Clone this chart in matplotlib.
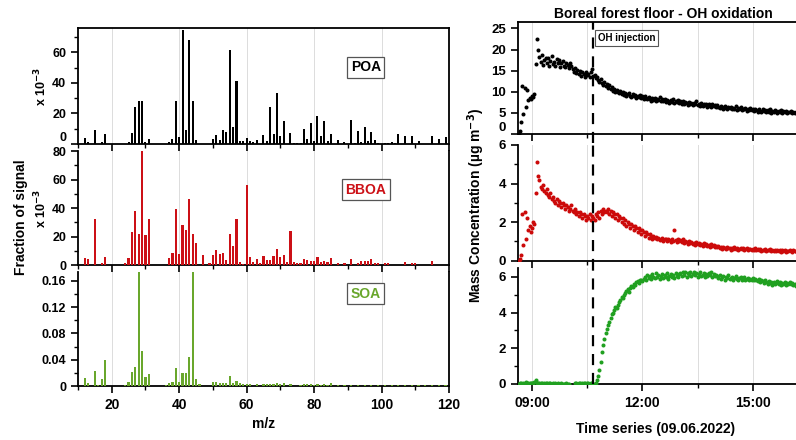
import numpy as np
import pandas as pd
import matplotlib
matplotlib.use("Agg")
import matplotlib.pyplot as plt
import matplotlib.dates as mdates
from matplotlib.ticker import MultipleLocator, FuncFormatter

plt.rcParams['font.family'] = ['Liberation Sans', 'DejaVu Sans']
plt.rcParams['font.weight'] = 'bold'
plt.rcParams['axes.labelweight'] = 'bold'
plt.rcParams['axes.linewidth'] = 1.3

# ---- mass spectra (POA and BBOA in 10^-3, SOA as fraction) ----
poa_mz = [12, 13, 15, 17, 18, 25, 26, 27, 28, 29, 30, 31, 37, 38, 39, 40, 41, 42, 43, 44, 45,
          50, 51, 52, 53, 54, 55, 56, 57, 58, 59, 60, 61, 62, 63, 65, 66, 67, 68, 69, 70, 71,
          73, 74, 75, 76, 77, 78, 79, 80, 81, 82, 83, 84, 85, 87, 89, 91, 92, 93, 94, 95, 96,
          97, 98, 99, 101, 102, 103, 104, 105, 107, 109, 111, 115, 117, 119]
poa_val = [3.7, 1.0, 9.0, 1.5, 6.3, 1.0, 7.4, 24.3, 28.5, 28.0, 1.5, 3.0, 1.5, 3.0, 28.0, 4.4, 74.4, 9.4, 68.3, 28.5, 2.6,
           3.0, 6.0, 2.4, 9.2, 8.1, 61.7, 11.2, 41.0, 1.8, 1.8, 4.0, 2.0, 1.0, 2.6, 6.1, 2.0, 24.5, 6.4, 33.3, 5.3, 15.3,
           7.4, 0.9, 0.9, 0.9, 9.6, 3.0, 13.6, 2.2, 18.6, 5.3, 15.1, 2.0, 6.8, 2.6, 1.0, 15.8, 0.9, 8.8, 1.0, 11.4, 2.2,
           7.7, 2.6, 0.9, 0.9, 0.9, 1.3, 0.9, 6.8, 5.5, 5.0, 2.2, 5.3, 3.5, 4.6]

bboa_mz = [12, 13, 15, 17, 18, 24, 25, 26, 27, 28, 29, 30, 31, 37, 38, 39, 40, 41, 42, 43, 44, 45,
           47, 49, 50, 51, 52, 53, 54, 55, 56, 57, 58, 59, 60, 61, 62, 63, 64, 65, 66, 67, 68, 69,
           70, 71, 72, 73, 74, 75, 76, 77, 78, 79, 80, 81, 82, 83, 84, 85, 87, 89, 91, 93, 94, 95,
           96, 97, 98, 99, 101, 102, 107, 109, 110, 115]
bboa_val = [5.1, 4.0, 32.3, 1.2, 5.4, 1.2, 4.9, 23.4, 37.9, 21.8, 80.0, 21.0, 32.5, 4.9, 8.2, 39.0, 8.0, 28.3, 24.3, 46.0, 21.8, 15.4,
            6.8, 1.2, 7.0, 10.8, 7.5, 8.4, 3.7, 21.5, 13.3, 32.3, 2.3, 0.9, 56.4, 5.6, 2.1, 4.2, 1.4, 6.1, 3.5, 3.7, 6.3, 11.5,
            5.6, 6.8, 2.3, 23.9, 1.9, 1.4, 1.4, 4.4, 3.3, 3.0, 3.0, 5.8, 2.1, 3.0, 2.1, 4.7, 1.6, 1.4, 4.0, 1.2, 2.6, 2.6,
            2.6, 4.0, 1.6, 1.2, 1.2, 1.2, 2.1, 1.4, 1.4, 2.6]

soa_mz = [12, 13, 15, 16, 17, 18, 24, 25, 26, 27, 28, 29, 30, 31, 36, 37, 38, 39, 40, 41, 42, 43, 44, 45, 46,
          50, 51, 52, 53, 54, 55, 56, 57, 58, 59, 60, 61, 63, 65, 66, 67, 68, 69, 70, 71, 73, 76, 77, 78,
          79, 80, 81, 82, 83, 84, 85, 87, 89, 91, 93, 95, 97, 99, 101, 103, 105, 107, 109, 111, 113, 115, 117, 119]
soa_val = [0.0117, 0.005, 0.0234, 0.001, 0.010, 0.0396, 0.0015, 0.0056, 0.0208, 0.029, 0.173, 0.0538, 0.0132, 0.0188,
           0.001, 0.0046, 0.0066, 0.0274, 0.0066, 0.0193, 0.0193, 0.0442, 0.173, 0.0102, 0.0036,
           0.0056, 0.006, 0.0046, 0.005, 0.004, 0.0157, 0.005, 0.0081, 0.004, 0.0036, 0.0036, 0.0025, 0.0025, 0.003,
           0.0025, 0.0036, 0.0036, 0.0046, 0.0025, 0.0046, 0.0036, 0.002, 0.003, 0.0025, 0.003, 0.002, 0.003, 0.002,
           0.0025, 0.002, 0.004, 0.0015, 0.001, 0.0015, 0.001, 0.0015, 0.001, 0.0012, 0.001, 0.001, 0.0012, 0.001,
           0.001, 0.001, 0.001, 0.0012, 0.001, 0.001]

# ---- time series, 2-min sampling from 08:38 (µg m-3) ----
ts_start = "2022-06-09 08:38"
ts_step = "2min"
injection_time = "2022-06-09 10:40"

poa_ts = [0.1, 0.6, 2.8, 11.4, 4.8, 10.9, 6.3, 10.4, 8.0, 8.6, 8.2, 9.0, 8.7, 9.4, 16.6, 22.5, 20.0,
          18.2, 17.0, 18.8, 16.4, 17.6, 18.1, 16.8, 17.9, 16.1, 17.3, 18.4, 16.6, 17.1, 16.0, 17.8, 16.9, 17.5,
          15.8, 16.7, 17.4, 16.2, 15.9, 16.8, 16.3, 15.6,
          16.9, 16.2, 15.4, 14.8, 15.6, 14.5, 15.1, 14.2, 14.9, 13.8, 14.6, 14.1, 13.5, 14.7, 13.9, 14.3, 13.6,
          14.8, 15.5, 13.7,
          14.0, 13.2, 13.6, 12.8, 12.4, 13.0, 12.1, 11.7, 12.2, 11.4,
          11.8, 11.0, 11.5, 10.6, 11.1, 10.2, 10.7, 9.9, 10.5, 10.0, 9.6, 10.2, 9.4, 9.9, 9.2, 9.7, 9.0, 9.5,
          9.8, 9.1, 8.7, 9.4, 8.9, 9.3, 8.6, 9.1, 8.8, 9.2, 8.5, 8.9,
          8.4, 9.0, 8.6, 8.2, 8.8, 8.3, 7.9, 8.6, 8.1, 8.5, 7.8, 8.3, 8.0, 8.7, 7.7, 8.2, 7.9, 8.4, 7.6, 8.1,
          7.8, 7.4, 8.0, 7.6, 8.2, 7.3, 7.8, 7.5, 8.1, 7.4,
          7.7, 7.2, 7.9, 7.0, 7.5, 7.3, 6.9, 7.6, 7.1, 7.4, 6.8, 7.3, 7.0, 7.8, 6.9, 7.2, 6.7, 7.4, 6.6, 7.1,
          6.8, 7.0, 6.5, 7.2, 6.7, 6.4, 7.0, 6.6, 6.9, 6.3,
          6.8, 6.4, 6.1, 6.7, 6.3, 6.0, 6.6, 6.2, 5.9, 6.5, 6.1, 6.4, 5.8, 6.2, 6.0, 6.6, 5.7, 6.1, 5.9, 6.3,
          5.6, 6.0, 5.8, 6.2, 5.5, 5.9, 5.7, 6.1, 5.6, 5.8,
          5.4, 5.9, 5.6, 5.2, 5.8, 5.5, 5.3, 5.9, 5.4, 5.7, 5.1, 5.6, 5.3, 5.8, 5.0, 5.5, 5.2, 5.7, 5.4, 4.9,
          5.5, 5.2, 5.6, 5.0, 5.4, 5.1, 5.5, 4.9, 5.3, 5.2,
          5.4, 5.0, 5.3, 4.9, 5.2, 5.1]

bboa_ts = [0.0, 0.1, 0.3, 2.4, 0.8, 2.5, 1.1, 2.2, 1.6, 1.8, 1.5, 1.7, 2.0, 1.9, 3.5, 5.1, 4.4,
           4.2, 3.8, 3.7, 3.9, 3.6, 3.5, 3.7, 3.4, 3.3, 3.5, 3.2, 3.3, 3.1, 3.0, 3.2, 2.9, 3.1, 3.0, 2.8,
           3.0, 2.9, 2.7, 2.9, 2.8, 2.6,
           2.7, 2.9, 2.6, 2.5, 2.7, 2.4, 2.5, 2.3, 2.5, 2.4, 2.2, 2.4, 2.3, 2.1, 2.3, 2.2, 2.4, 2.1, 2.3, 2.2,
           2.1, 2.4, 2.3, 2.5, 2.2, 2.6, 2.4, 2.7, 2.5, 2.6,
           2.5, 2.7, 2.4, 2.6, 2.3, 2.5, 2.4, 2.2, 2.4, 2.1, 2.3, 2.2, 2.0, 2.2, 1.9, 2.1, 1.8, 2.0, 1.9, 1.7,
           1.9, 1.8, 1.6, 1.8, 1.7, 1.5, 1.7, 1.6, 1.4, 1.6,
           1.5, 1.3, 1.5, 1.4, 1.2, 1.4, 1.3, 1.1, 1.3, 1.2, 1.25, 1.1, 1.2, 1.05, 1.15, 1.2, 1.0, 1.1, 1.15, 1.0,
           1.1, 1.05, 0.95, 1.1, 1.0, 1.6, 1.05, 0.95, 1.1, 1.0,
           1.05, 0.95, 1.1, 0.9, 1.0, 0.95, 0.85, 1.0, 0.9, 0.95, 0.85, 0.9, 0.8, 0.95, 0.85, 0.9, 0.8, 0.85, 0.75, 0.9,
           0.8, 0.85, 0.75, 0.8, 0.7, 0.85, 0.75, 0.8, 0.7, 0.75,
           0.7, 0.78, 0.66, 0.72, 0.62, 0.7, 0.65, 0.6, 0.7, 0.64, 0.68, 0.58, 0.66, 0.62, 0.7, 0.6, 0.65, 0.57, 0.63, 0.68,
           0.6, 0.64, 0.56, 0.62, 0.66, 0.58, 0.63, 0.6, 0.55, 0.62,
           0.58, 0.64, 0.54, 0.6, 0.56, 0.62, 0.52, 0.58, 0.55, 0.6, 0.5, 0.57, 0.53, 0.59, 0.5, 0.55, 0.52, 0.58, 0.48, 0.54,
           0.51, 0.57, 0.47, 0.53, 0.5, 0.56, 0.46, 0.52, 0.49, 0.54,
           0.5, 0.47, 0.53, 0.48, 0.51, 0.46]

nan = float('nan')
soa_ts = [0.02, 0.03, 0.05, 0.02, 0.06, 0.04, 0.1, 0.05, 0.03, 0.08, 0.04, 0.06, 0.05, 0.12, 0.2, 0.07, 0.04,
          0.05, 0.03, 0.06, 0.02, 0.04, 0.03, 0.05, 0.02, 0.03, 0.04, 0.02, 0.03, 0.02, 0.04, 0.02, 0.03, 0.01,
          0.02, 0.03, 0.02, 0.01, 0.02, 0.03, 0.01, 0.02,
          nan, nan, nan, nan, 0.03, 0.05, 0.02, 0.04, 0.03, 0.02, 0.05, 0.03, 0.04, 0.02, 0.03, 0.05, 0.02,
          0.04, 0.03, 0.02,
          0.02, 0.05, 0.2, 0.45, 0.8, 1.25, 1.8, 2.2, 2.5, 2.85,
          3.1, 3.3, 3.5, 3.7, 3.9, 4.0, 4.15, 4.3, 4.25, 4.45, 4.6, 4.7, 4.85, 4.8, 5.0, 5.1, 5.2, 5.3, 5.15, 5.4,
          5.5, 5.45, 5.6, 5.55, 5.7, 5.75, 5.65, 5.8, 5.85, 5.75,
          5.9, 6.0, 5.85, 6.1, 5.95, 6.05, 5.9, 6.15, 6.0, 5.95, 6.2, 6.0, 6.1, 5.9, 6.05, 6.15, 5.95, 6.1, 6.0, 6.2,
          5.9, 6.05, 6.15, 6.0, 6.1, 5.95, 6.2, 6.05, 6.0, 6.15,
          6.2, 6.05, 6.25, 6.1, 6.3, 6.0, 6.2, 6.1, 6.25, 6.05, 6.15, 6.3, 6.1, 6.2, 6.0, 6.15, 6.25, 6.05, 6.1, 6.2,
          6.0, 6.15, 6.05, 6.2, 6.1, 6.3, 6.0, 6.15, 6.05, 6.1,
          6.05, 5.95, 6.1, 5.9, 6.0, 6.05, 5.85, 6.0, 5.95, 6.1, 5.9, 5.95, 6.0, 5.85, 5.95, 6.05, 5.9, 5.8, 5.95, 6.0,
          5.85, 5.9, 6.0, 5.8, 5.9, 5.95, 5.85, 5.9, 5.8, 5.95,
          5.85, 5.9, 5.8, 5.75, 5.9, 5.7, 5.85, 5.75, 5.65, 5.8, 5.7, 5.6, 5.75, 5.65, 5.7, 5.55, 5.7, 5.6, 5.65, 5.75,
          5.6, 5.7, 5.55, 5.65, 5.6, 5.7, 5.55, 5.65, 5.6, 5.7,
          5.6, 5.65, 5.55, 5.6, 5.5, 5.6]

RED = '#cc1016'
GREEN_BAR = '#69a72c'
GREEN_PT = '#20a020'
GRID = '#dcdcdc'

def zero_fmt(v, pos):
    return '0' if abs(v) < 1e-12 else '%g' % v

fig = plt.figure(figsize=(7.96, 4.40), dpi=100)

# ---- left: spectra ----
spec_specs = [
    (poa_mz, poa_val, 'black', 'POA', 0.6727, 0.2636, 76, [0, 20, 40, 60], 10, 0.66, 0.6),
    (bboa_mz, bboa_val, RED, 'BBOA', 0.3977, 0.2590, 80, [0, 20, 40, 60, 80], 10, 0.66, 0.65),
    (soa_mz, soa_val, GREEN_BAR, 'SOA', 0.1227, 0.2590, 0.1735, [0, 0.04, 0.08, 0.12, 0.16], 0.02, 0.81, 0.65),
]
left_axes = []
for mz, val, col, name, bot, h, ymax, yt, mnr, ylab, bw in spec_specs:
    ax = fig.add_axes([0.098, bot, 0.466, h])
    ax.bar(mz, val, width=bw, color=col, zorder=3)
    ax.set_xlim(10, 120)
    ax.set_ylim(0, ymax)
    ax.xaxis.set_major_locator(MultipleLocator(20))
    ax.xaxis.set_minor_locator(MultipleLocator(10))
    ax.set_yticks(yt)
    ax.yaxis.set_major_formatter(FuncFormatter(zero_fmt))
    ax.yaxis.set_minor_locator(MultipleLocator(mnr))
    ax.grid(axis='x', which='major', color=GRID, lw=0.7, zorder=0)
    ax.tick_params(which='major', direction='out', length=5, width=1.2)
    ax.tick_params(which='minor', direction='out', length=3, width=1.0)
    ax.tick_params(axis='y', labelsize=9)
    ax.tick_params(axis='x', labelsize=10)
    if name != 'POA':
        ax.spines['top'].set_visible(False)
    if name != 'SOA':
        ax.tick_params(axis='x', labelbottom=False)
    ax.text(0.776, ylab, name, transform=ax.transAxes, ha='center', va='center',
            color=col, fontsize=10, fontweight='bold',
            bbox=dict(boxstyle='square,pad=0.25', fc='white', ec='#555555', lw=0.9))
    left_axes.append(ax)

# lift the top panel's zero label so it clears the panel below
left_axes[0].yaxis.get_major_ticks()[0].label1.set_verticalalignment('bottom')

left_axes[0].set_ylabel('x 10$^{\\mathbf{-3}}$', fontsize=9, labelpad=2)
left_axes[1].set_ylabel('x 10$^{\\mathbf{-3}}$', fontsize=9, labelpad=2)
left_axes[2].set_xlabel('m/z', fontsize=10, labelpad=4)
fig.text(0.026, 0.507, 'Fraction of signal', rotation=90, ha='center', va='center',
         fontsize=10, fontweight='bold')

# ---- right: time series ----
times = pd.date_range(ts_start, periods=len(poa_ts), freq=ts_step)
t_inj = pd.Timestamp(injection_time)
x_lo = pd.Timestamp("2022-06-09 08:37:12")
x_hi = pd.Timestamp("2022-06-09 16:30")
half_hours = [pd.Timestamp("2022-06-09 10:30"), pd.Timestamp("2022-06-09 13:30"),
              pd.Timestamp("2022-06-09 16:30")]

ts_specs = [
    (poa_ts, 'black', 0.6955, 0.2552, 26.6, [0, 5, 10, 15, 20, 25], None),
    (bboa_ts, '#cc0a0a', 0.4075, 0.2630, 6.0, [0, 2, 4, 6], 1),
    (soa_ts, GREEN_PT, 0.1273, 0.2636, 6.5, [0, 2, 4, 6], 1),
]
right_axes = []
for k, (vals, col, bot, h, ymax, yt, mnr) in enumerate(ts_specs):
    ax = fig.add_axes([0.6508, bot, 0.3643, h])
    ax.plot(times, vals, 'o', ms=2.9, color=col, mec='none', zorder=3)
    ax.set_xlim(x_lo, x_hi)
    ax.set_ylim(0, ymax)
    ax.set_yticks(yt)
    if mnr:
        ax.yaxis.set_minor_locator(MultipleLocator(mnr))
    ax.xaxis.set_major_locator(mdates.HourLocator(byhour=[9, 12, 15]))
    ax.xaxis.set_major_formatter(mdates.DateFormatter('%H:%M'))
    ax.set_xticks(half_hours, minor=True)
    ax.grid(axis='x', which='both', color=GRID, lw=0.7, zorder=0)
    ax.tick_params(which='major', direction='out', length=5, width=1.2)
    ax.tick_params(which='minor', direction='out', length=3, width=1.0)
    ax.tick_params(axis='y', labelsize=9.5)
    ax.tick_params(axis='x', labelsize=10)
    ax.spines['right'].set_visible(False)
    if k > 0:
        ax.spines['top'].set_visible(False)
    if k < 2:
        ax.tick_params(axis='x', labelbottom=False)
    ax.axvline(t_inj, ymin=-0.08 if k < 2 else 0, ymax=1, color='black', lw=1.6,
               dashes=(5, 3.5), clip_on=False, zorder=4)
    right_axes.append(ax)

right_axes[0].yaxis.get_major_ticks()[0].label1.set_verticalalignment('bottom')

right_axes[0].set_title('Boreal forest floor - OH oxidation', fontsize=10, fontweight='bold', pad=3)
right_axes[0].text(0.275, 0.855, 'OH injection', transform=right_axes[0].transAxes, ha='left',
                   va='center', fontsize=7, fontweight='bold',
                   bbox=dict(boxstyle='square,pad=0.3', fc='white', ec='#555555', lw=0.8))
fig.text(0.824, 0.025, 'Time series (09.06.2022)', ha='center', va='center',
         fontsize=10, fontweight='bold')
fig.text(0.598, 0.534, 'Mass Concentration (µg m$^{\\mathbf{-3}}$)', rotation=90, ha='center',
         va='center', fontsize=10, fontweight='bold')

fig.savefig('out.png', dpi=100)
